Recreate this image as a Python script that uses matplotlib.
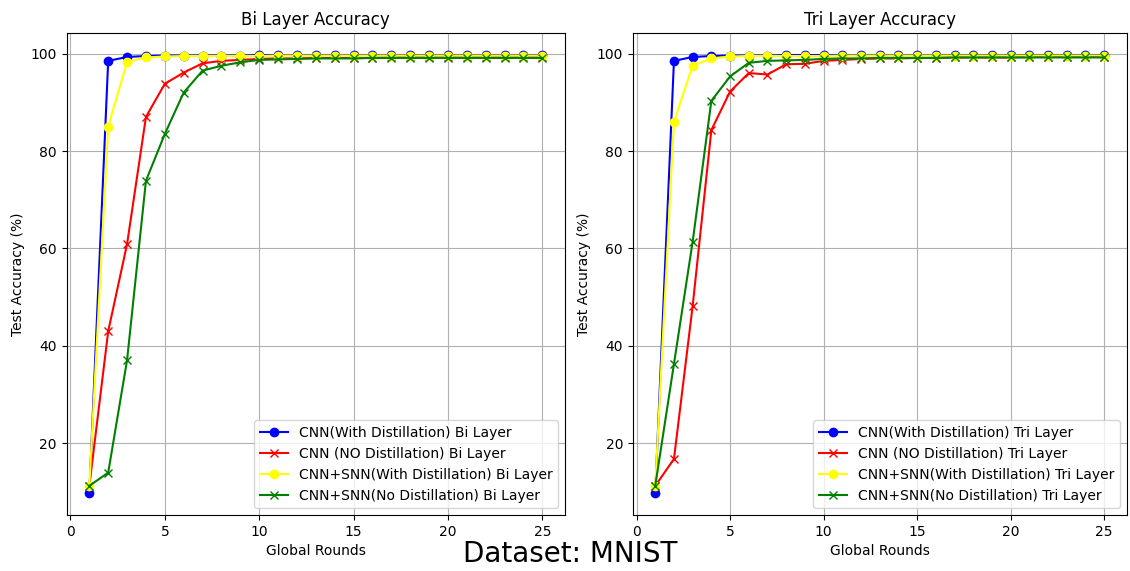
import matplotlib
matplotlib.use("Agg")
import matplotlib.pyplot as plt

rounds = list(range(1, 26))

# Bi layer
bi_cnn_distill = [9.8, 98.5, 99.3, 99.5, 99.6, 99.6, 99.6, 99.6, 99.6, 99.7, 99.7, 99.7, 99.7,
                  99.7, 99.7, 99.7, 99.7, 99.7, 99.7, 99.7, 99.7, 99.7, 99.7, 99.7, 99.7]
bi_cnn_nodistill = [11.3, 43.0, 60.9, 87.0, 93.8, 96.1, 98.0, 98.5, 98.7, 98.9, 99.0, 99.0, 99.1,
                    99.1, 99.1, 99.1, 99.2, 99.2, 99.2, 99.2, 99.2, 99.2, 99.2, 99.2, 99.2]
bi_snn_distill = [11.3, 85.0, 98.3, 99.2, 99.4, 99.5, 99.5, 99.5, 99.5, 99.5, 99.6, 99.6, 99.6,
                  99.6, 99.6, 99.6, 99.6, 99.6, 99.6, 99.6, 99.6, 99.6, 99.6, 99.6, 99.6]
bi_snn_nodistill = [11.3, 14.0, 37.1, 73.9, 83.5, 92.0, 96.5, 97.5, 98.2, 98.7, 98.8, 98.9, 99.0,
                    99.0, 99.0, 99.1, 99.1, 99.1, 99.1, 99.1, 99.1, 99.1, 99.1, 99.1, 99.1]

# Tri layer
tri_cnn_distill = [9.8, 98.5, 99.3, 99.5, 99.6, 99.6, 99.6, 99.7, 99.7, 99.7, 99.7, 99.7, 99.7,
                   99.7, 99.7, 99.7, 99.7, 99.7, 99.7, 99.7, 99.7, 99.7, 99.7, 99.7, 99.7]
tri_cnn_nodistill = [11.3, 16.8, 48.2, 84.3, 92.2, 96.0, 95.7, 97.8, 97.9, 98.5, 98.7, 98.9, 99.0,
                     99.0, 99.1, 99.1, 99.2, 99.2, 99.2, 99.2, 99.3, 99.3, 99.3, 99.3, 99.3]
tri_snn_distill = [11.3, 86.0, 97.5, 99.0, 99.4, 99.5, 99.5, 99.5, 99.5, 99.5, 99.6, 99.6, 99.6,
                   99.6, 99.6, 99.6, 99.6, 99.6, 99.6, 99.6, 99.6, 99.6, 99.6, 99.6, 99.6]
tri_snn_nodistill = [11.3, 36.3, 61.4, 90.3, 95.3, 98.1, 98.5, 98.6, 98.7, 98.9, 99.0, 99.0, 99.1,
                     99.1, 99.1, 99.1, 99.2, 99.2, 99.2, 99.2, 99.2, 99.2, 99.2, 99.2, 99.2]

fig = plt.figure(figsize=(11.3, 5.71), dpi=100)
ax1 = fig.add_axes([0.059, 0.098, 0.441, 0.844])
ax2 = fig.add_axes([0.560, 0.098, 0.437, 0.844])

def draw(ax, a, b, c, d, tag):
    ax.plot(rounds, a, color="blue", marker="o", label="CNN(With Distillation) %s Layer" % tag)
    ax.plot(rounds, b, color="red", marker="x", label="CNN (NO Distillation) %s Layer" % tag)
    ax.plot(rounds, c, color="yellow", marker="o", label="CNN+SNN(With Distillation) %s Layer" % tag)
    ax.plot(rounds, d, color="green", marker="x", label="CNN+SNN(No Distillation) %s Layer" % tag)
    ax.set_title("%s Layer Accuracy" % tag, fontsize=12)
    ax.set_xlabel("Global Rounds")
    ax.set_ylabel("Test Accuracy (%)")
    ax.grid(True)
    ax.legend(loc="lower right")

draw(ax1, bi_cnn_distill, bi_cnn_nodistill, bi_snn_distill, bi_snn_nodistill, "Bi")
draw(ax2, tri_cnn_distill, tri_cnn_nodistill, tri_snn_distill, tri_snn_nodistill, "Tri")

fig.text(0.505, 0.005, "Dataset: MNIST", ha="center", va="bottom", fontsize=20)

fig.savefig("out.png", dpi=100)
